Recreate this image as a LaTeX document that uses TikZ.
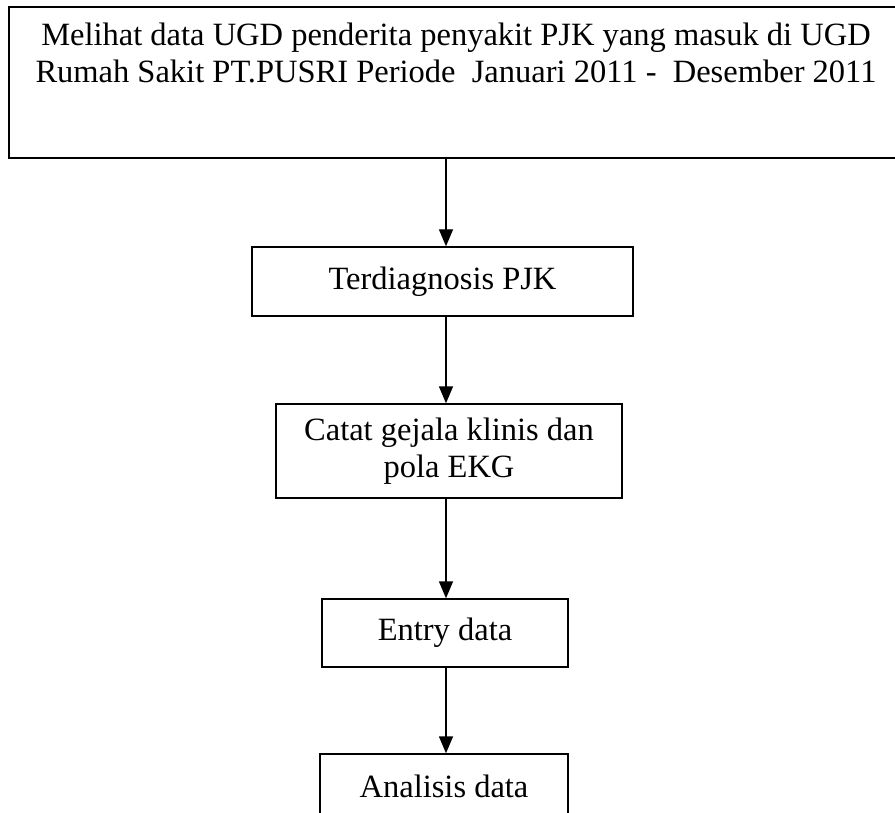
\documentclass[tikz,border=0pt]{standalone}
\usepackage{fontspec}
\setmainfont{Liberation Serif}
\usetikzlibrary{arrows.meta}
\begin{document}
\begin{tikzpicture}[x=1pt,y=-1pt,
  every node/.style={font=\fontsize{32.5}{37.5}\selectfont},
  flowbox/.style={draw, line width=1.4pt, rectangle, inner sep=0pt, align=center},
  arr/.style={line width=1.4pt, -{Triangle[width=14pt,length=17pt]}}]
\clip (0,0) rectangle (895,813);
\fill[white] (0,0) rectangle (895,813);

% boxes
\node[flowbox, minimum width=894pt, minimum height=151pt] (top) at (456,82.5) {};
\node[anchor=north, align=center] (toptext) at (456,19)
  {Melihat data UGD penderita penyakit PJK yang masuk di UGD\\
   Rumah Sakit PT.PUSRI Periode\ \ Januari 2011 -\ \ Desember 2011};
\node[flowbox, minimum width=381pt, minimum height=69pt] (b2) at (442.5,281.5) {Terdiagnosis PJK};
\node[flowbox, minimum width=346pt, minimum height=94pt] (b3) at (449,451) {Catat gejala klinis dan\\pola EKG};
\node[flowbox, minimum width=246pt, minimum height=68pt] (b4) at (445,633) {Entry data};
\node[flowbox, minimum width=248pt, minimum height=64pt] (b5) at (444,786) {Analisis data};

% connectors
\coordinate (ax) at (446,0);
\draw[arr] (top.south -| ax) -- (b2.north -| ax);
\draw[arr] (b2.south -| ax) -- (b3.north -| ax);
\draw[arr] (b3.south -| ax) -- (b4.north -| ax);
\draw[arr] (b4.south -| ax) -- (b5.north -| ax);
\end{tikzpicture}
\end{document}
